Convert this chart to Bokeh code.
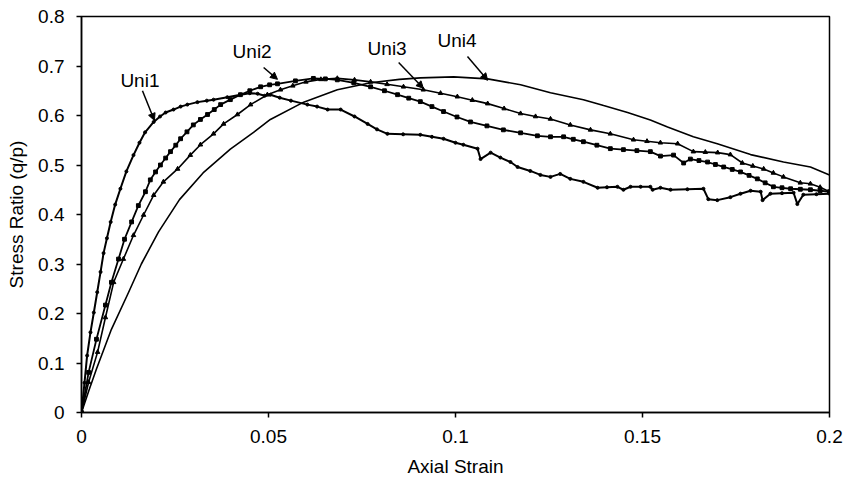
from bokeh.plotting import figure
from bokeh.models import Range1d, FixedTicker, Label, Arrow, NormalHead
from bokeh.embed import file_html
from bokeh.resources import INLINE

# ---- data ----
uni1_x = [0, 0.0008, 0.0015, 0.0024, 0.0033, 0.0042, 0.0051, 0.0059, 0.0068, 0.0078,
          0.009, 0.0104, 0.012, 0.0139, 0.0155, 0.017, 0.0193, 0.021, 0.0225, 0.0246,
          0.0265, 0.0283, 0.031, 0.0335, 0.0353, 0.039, 0.0425, 0.045, 0.0471, 0.049,
          0.0505, 0.053, 0.056, 0.0604, 0.063, 0.0658, 0.0693, 0.073, 0.0765, 0.079,
          0.0818, 0.086, 0.0906, 0.0937, 0.0968, 0.1, 0.1021, 0.1059, 0.1067, 0.1094,
          0.112, 0.1147, 0.1166, 0.12, 0.1227, 0.1254, 0.128, 0.1307, 0.1342, 0.138,
          0.1405, 0.1433, 0.1449, 0.1468, 0.1495, 0.1521, 0.1527, 0.1548, 0.1575, 0.162,
          0.1663, 0.1676, 0.170, 0.1735, 0.1762, 0.1789, 0.1816, 0.1821, 0.1842, 0.1873,
          0.1904, 0.1914, 0.1930, 0.1965, 0.2]
uni1_y = [0, 0.06, 0.115, 0.162, 0.202, 0.243, 0.284, 0.322, 0.352, 0.385,
          0.42, 0.452, 0.487, 0.520, 0.545, 0.566, 0.587, 0.598, 0.606, 0.612,
          0.618, 0.622, 0.627, 0.630, 0.632, 0.637, 0.642, 0.645, 0.644, 0.640,
          0.642, 0.636, 0.630, 0.622, 0.618, 0.612, 0.612, 0.598, 0.583, 0.572,
          0.563, 0.562, 0.561, 0.557, 0.553, 0.545, 0.541, 0.533, 0.512, 0.525,
          0.515, 0.506, 0.496, 0.488, 0.480, 0.476, 0.482, 0.472, 0.466, 0.454,
          0.455, 0.456, 0.450, 0.456, 0.456, 0.456, 0.450, 0.454, 0.450, 0.451,
          0.452, 0.431, 0.429, 0.435, 0.442, 0.448, 0.446, 0.429, 0.442, 0.443,
          0.444, 0.421, 0.440, 0.441, 0.442]

uni2_x = [0, 0.0019, 0.004, 0.0064, 0.008, 0.0099, 0.0115, 0.0134, 0.0152, 0.0171,
          0.0184, 0.0198, 0.0211, 0.0225, 0.0238, 0.0252, 0.0265, 0.0282, 0.0299, 0.0318,
          0.0337, 0.0355, 0.0372, 0.0398, 0.0425, 0.045, 0.0479, 0.0503, 0.0524, 0.0572,
          0.062, 0.0652, 0.0684, 0.0728, 0.0773, 0.081, 0.0845, 0.0875, 0.0906, 0.0937,
          0.0968, 0.1004, 0.104, 0.1084, 0.1128, 0.1174, 0.1219, 0.1254, 0.1289, 0.1315,
          0.1342, 0.1378, 0.1414, 0.1449, 0.1485, 0.1521, 0.1548, 0.1583, 0.161, 0.1628,
          0.1651, 0.1674, 0.1695, 0.1717, 0.174, 0.1762, 0.1785, 0.1807, 0.1828, 0.185,
          0.1873, 0.1896, 0.1922, 0.1949, 0.1975, 0.2]
uni2_y = [0, 0.081, 0.148, 0.217, 0.263, 0.310, 0.350, 0.385, 0.418, 0.446,
          0.470, 0.486, 0.500, 0.514, 0.527, 0.540, 0.553, 0.567, 0.581, 0.592,
          0.602, 0.612, 0.622, 0.632, 0.642, 0.650, 0.658, 0.662, 0.664, 0.670,
          0.675, 0.674, 0.672, 0.666, 0.658, 0.650, 0.642, 0.635, 0.628, 0.618,
          0.608, 0.597, 0.587, 0.579, 0.571, 0.565, 0.559, 0.557, 0.557, 0.552,
          0.547, 0.540, 0.533, 0.531, 0.529, 0.527, 0.518, 0.520, 0.504, 0.512,
          0.509, 0.506, 0.501, 0.496, 0.491, 0.486, 0.479, 0.472, 0.464, 0.456,
          0.454, 0.452, 0.451, 0.450, 0.448, 0.446]

uni3_x = [0, 0.0019, 0.0043, 0.0064, 0.0086, 0.0112, 0.0139, 0.0166, 0.0193, 0.0219,
          0.0257, 0.0291, 0.0318, 0.0353, 0.0380, 0.0417, 0.0452, 0.0497, 0.0532, 0.0565,
          0.060, 0.064, 0.0684, 0.073, 0.0773, 0.0817, 0.0861, 0.0914, 0.096, 0.1005,
          0.1045, 0.1086, 0.113, 0.1174, 0.1214, 0.1254, 0.1307, 0.1361, 0.1414, 0.1476,
          0.1512, 0.1548, 0.1594, 0.1636, 0.1668, 0.1701, 0.1735, 0.1767, 0.1795, 0.1824,
          0.185, 0.1877, 0.1922, 0.1949, 0.1975, 0.2]
uni3_y = [0, 0.061, 0.122, 0.192, 0.263, 0.310, 0.358, 0.399, 0.439, 0.466,
          0.492, 0.520, 0.541, 0.563, 0.583, 0.602, 0.622, 0.642, 0.652, 0.660,
          0.668, 0.673, 0.675, 0.672, 0.668, 0.663, 0.658, 0.652, 0.645, 0.638,
          0.631, 0.624, 0.614, 0.604, 0.598, 0.593, 0.581, 0.571, 0.563, 0.551,
          0.548, 0.545, 0.543, 0.527, 0.526, 0.525, 0.521, 0.504, 0.498, 0.492,
          0.484, 0.476, 0.464, 0.462, 0.455, 0.446]

uni4_x = [0, 0.002, 0.004, 0.008, 0.0126, 0.016, 0.0206, 0.0262, 0.0325, 0.0398,
          0.046, 0.0505, 0.0594, 0.0684, 0.0773, 0.085, 0.0906, 0.0995, 0.1086, 0.1174,
          0.1254, 0.1342, 0.1396, 0.146, 0.1521, 0.1567, 0.1636, 0.170, 0.1789, 0.1877,
          0.1949, 0.2]
uni4_y = [0, 0.045, 0.088, 0.168, 0.243, 0.300, 0.365, 0.430, 0.484, 0.532,
          0.566, 0.592, 0.627, 0.652, 0.666, 0.673, 0.676, 0.678, 0.674, 0.662,
          0.646, 0.632, 0.620, 0.606, 0.591, 0.577, 0.557, 0.543, 0.521, 0.506,
          0.496, 0.480]

x_ticks = [0, 0.05, 0.1, 0.15, 0.2]
x_tick_labels = ["0", "0.05", "0.1", "0.15", "0.2"]
y_ticks = [0, 0.1, 0.2, 0.3, 0.4, 0.5, 0.6, 0.7, 0.8]
y_tick_labels = ["0", "0.1", "0.2", "0.3", "0.4", "0.5", "0.6", "0.7", "0.8"]

series_names = ["Uni1", "Uni2", "Uni3", "Uni4"]

FONT = "Liberation Sans"
FS = "19px"

p = figure(width=849, height=487, output_backend="svg", toolbar_location=None,
           x_range=Range1d(0, 0.2), y_range=Range1d(0, 0.8),
           min_border_left=81, min_border_right=20, min_border_top=16, min_border_bottom=75)
p.background_fill_color = "white"
p.border_fill_color = "white"
p.outline_line_color = "black"
p.outline_line_width = 1.5
p.xgrid.visible = False
p.ygrid.visible = False

for ax in (p.xaxis[0], p.yaxis[0]):
    ax.axis_line_color = "black"
    ax.axis_line_width = 1.5
    ax.major_tick_line_color = "black"
    ax.major_tick_line_width = 1.5
    ax.major_tick_in = 0
    ax.major_tick_out = 5
    ax.minor_tick_line_color = None
    ax.major_label_text_font = FONT
    ax.major_label_text_font_size = FS
    ax.major_label_text_color = "black"
    ax.axis_label_text_font = FONT
    ax.axis_label_text_font_size = FS
    ax.axis_label_text_font_style = "normal"
    ax.axis_label_text_color = "black"

p.xaxis.ticker = FixedTicker(ticks=x_ticks)
p.yaxis.ticker = FixedTicker(ticks=y_ticks)
p.xaxis.major_label_overrides = dict(zip(x_ticks, x_tick_labels))
p.yaxis.major_label_overrides = dict(zip(y_ticks, y_tick_labels))
p.xaxis.axis_label = "Axial Strain"
p.yaxis.axis_label = "Stress Ratio (q/p)"
p.xaxis.major_label_standoff = 12
p.yaxis.major_label_standoff = 12
p.xaxis.axis_label_standoff = 10
p.yaxis.axis_label_standoff = 8

# series
p.line(uni4_x, uni4_y, line_color="black", line_width=1.6)
p.line(uni3_x, uni3_y, line_color="black", line_width=1.6)
p.scatter(uni3_x, uni3_y, marker="triangle", size=4.5, fill_color="black", line_color="black")
p.line(uni2_x, uni2_y, line_color="black", line_width=1.8)
p.scatter(uni2_x, uni2_y, marker="square", size=3.8, fill_color="black", line_color="black")
p.line(uni1_x, uni1_y, line_color="black", line_width=2)
p.scatter(uni1_x, uni1_y, marker="circle", size=3, fill_color="black", line_color="black")

# annotations
label_pos = [(0.0104, 0.670), (0.0404, 0.730), (0.0765, 0.736), (0.0952, 0.752)]
arrow_pos = [((0.0163, 0.650), (0.0195, 0.590)),
             ((0.0487, 0.697), (0.0524, 0.673)),
             ((0.0848, 0.707), (0.0914, 0.655)),
             ((0.1032, 0.719), (0.1086, 0.671))]
for name, (lx, ly), ((x0, y0), (x1, y1)) in zip(series_names, label_pos, arrow_pos):
    p.add_layout(Label(x=lx, y=ly, text=name, text_font=FONT, text_font_size=FS,
                       text_color="black", text_align="left", text_baseline="middle"))
    p.add_layout(Arrow(x_start=x0, y_start=y0, x_end=x1, y_end=y1,
                       line_color="black", line_width=1.5,
                       end=NormalHead(size=7, fill_color="black", line_color="black")))

open("out.html", "w").write(file_html(p, INLINE))
